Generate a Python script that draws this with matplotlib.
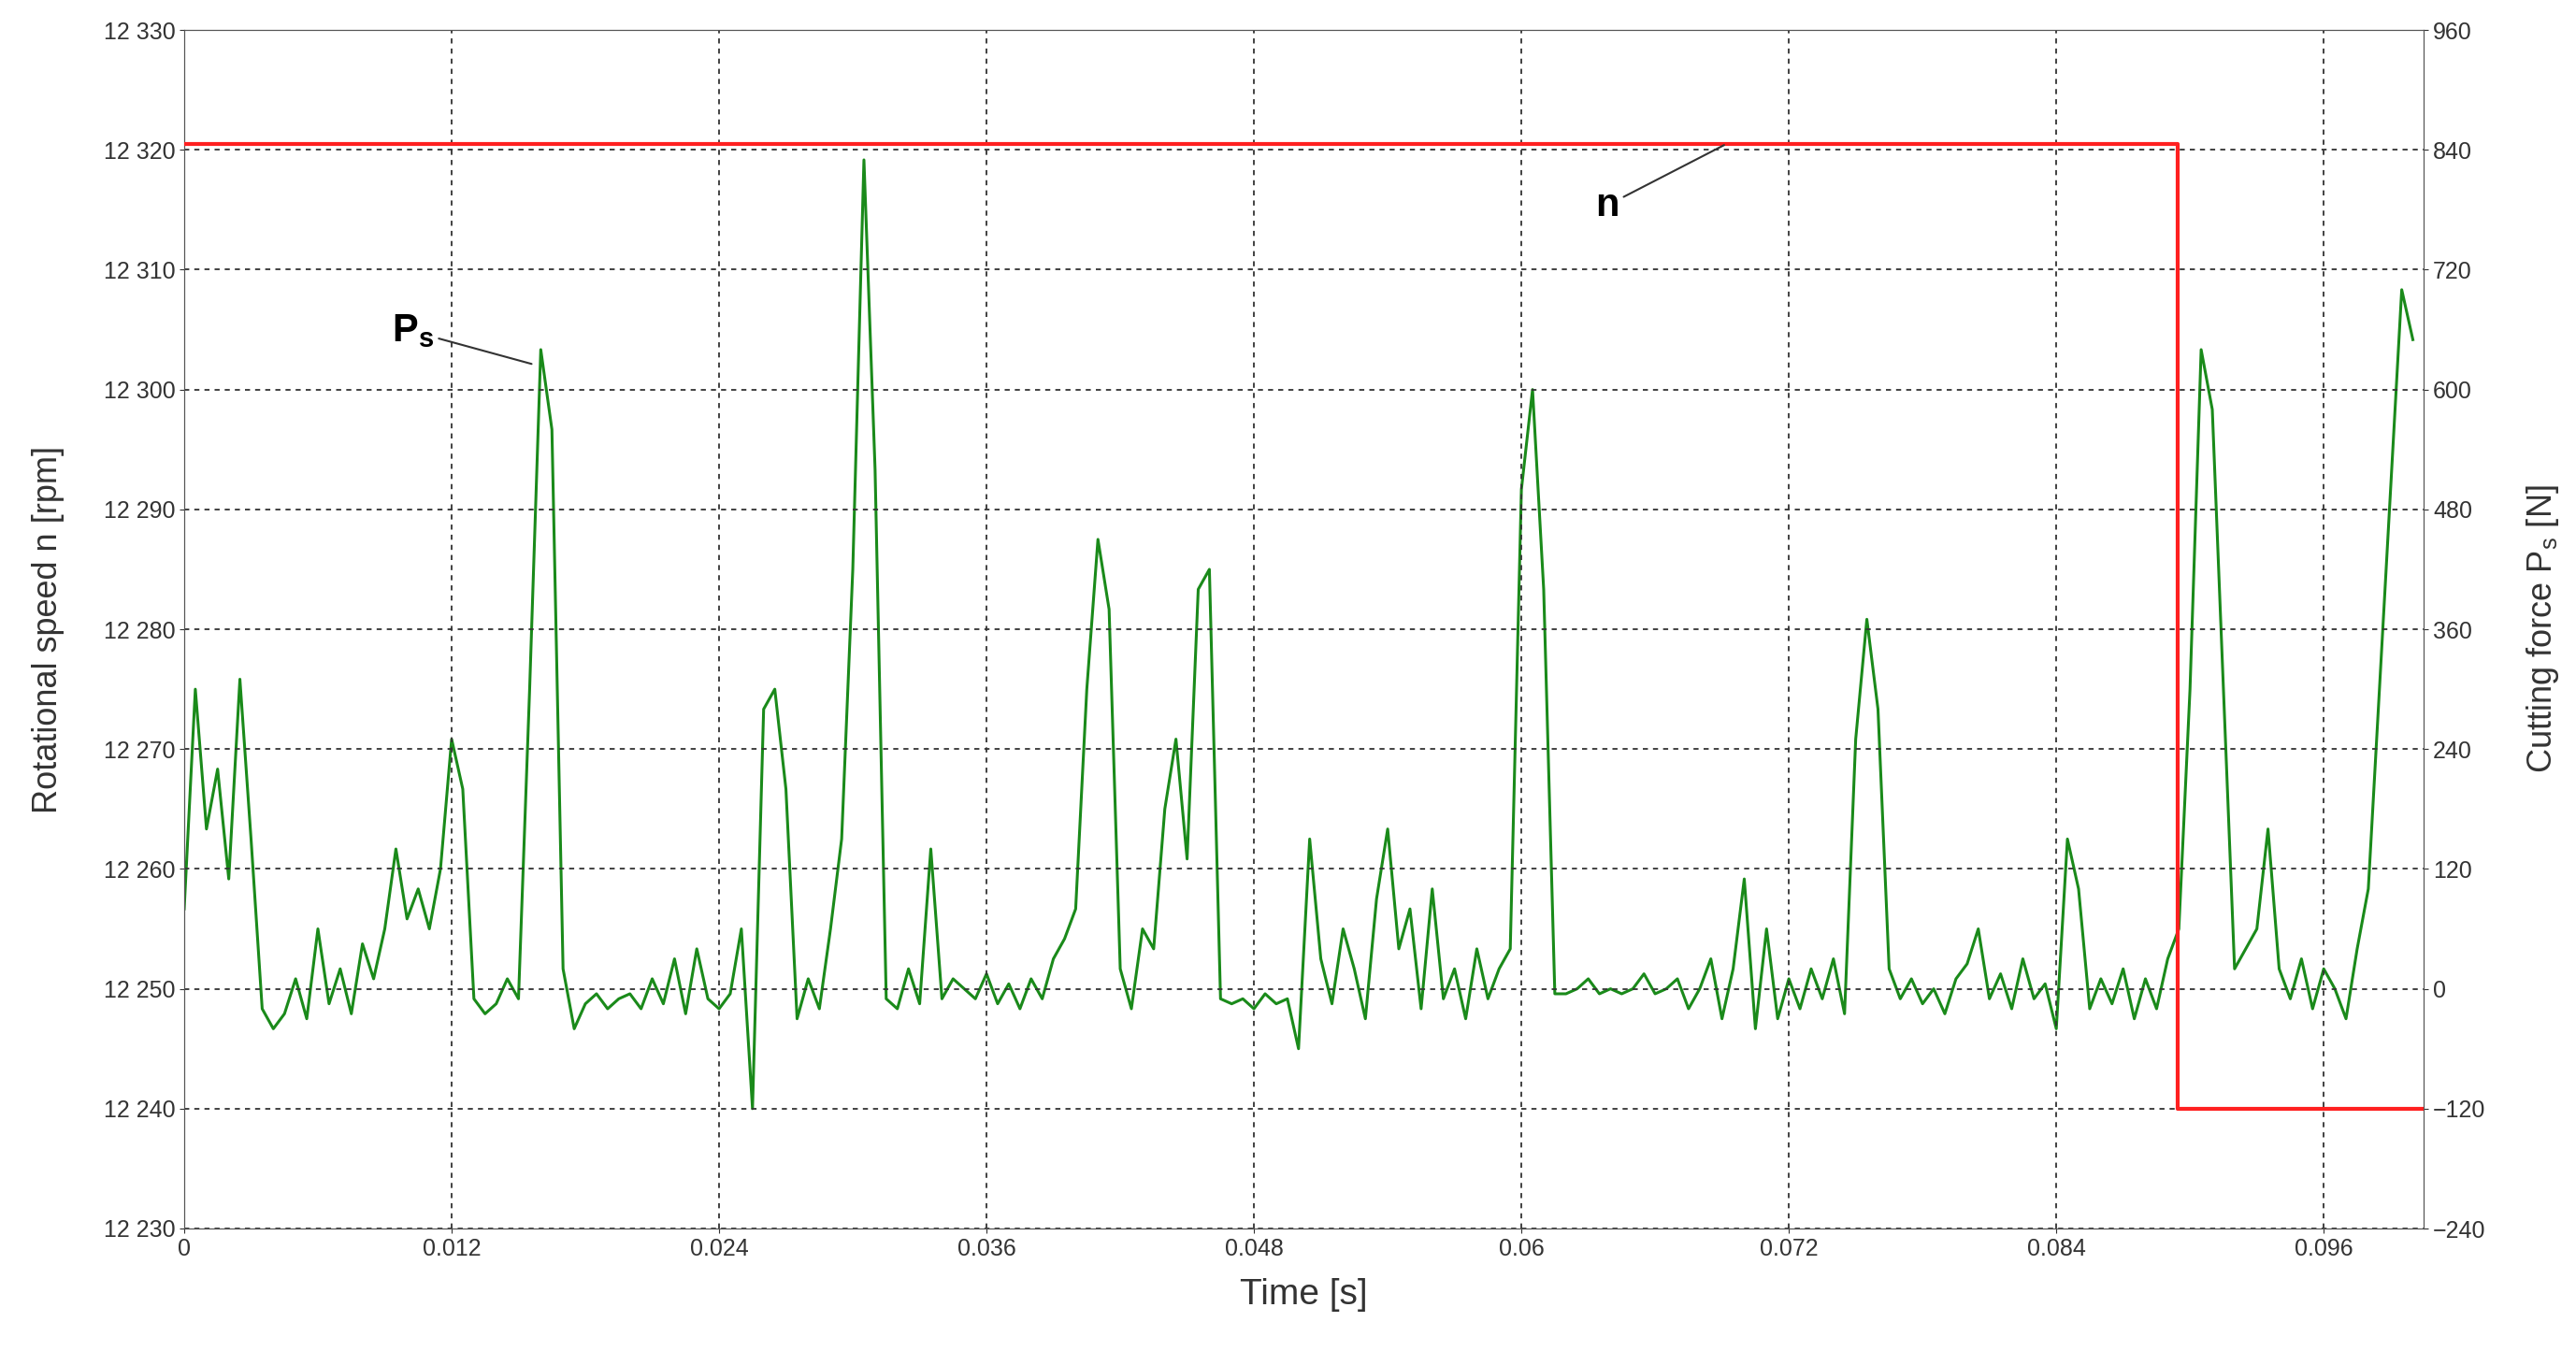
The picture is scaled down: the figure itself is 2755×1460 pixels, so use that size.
import numpy as np
import matplotlib
matplotlib.use("Agg")
import matplotlib.pyplot as plt

plt.rcParams['font.family'] = ['Liberation Sans', 'DejaVu Sans']

# time in ms, step 0.5 ms
t_ms = np.arange(0, 100.01, 0.5)
force = [
    80, 300, 160, 220, 110, 310, 150, -20, -40, -25,
    10, -30, 60, -15, 20, -25, 45, 10, 60, 140,
    70, 100, 60, 120, 250, 200, -10, -25, -15, 10,
    -10, 300, 640, 560, 20, -40, -15, -5, -20, -10,
    -5, -20, 10, -15, 30, -25, 40, -10, -20, -5,
    60, -120, 280, 300, 200, -30, 10, -20, 60, 150,
    420, 830, 520, -10, -20, 20, -15, 140, -10, 10,
    0, -10, 15, -15, 5, -20, 10, -10, 30, 50,
    80, 300, 450, 380, 20, -20, 60, 40, 180, 250,
    130, 400, 420, -10, -15, -10, -20, -5, -15, -10,
    -60, 150, 30, -15, 60, 20, -30, 90, 160, 40,
    80, -20, 100, -10, 20, -30, 40, -10, 20, 40,
    500, 600, 400, -5, -5, 0, 10, -5, 0, -5,
    0, 15, -5, 0, 10, -20, 0, 30, -30, 20,
    110, -40, 60, -30, 10, -20, 20, -10, 30, -25,
    250, 370, 280, 20, -10, 10, -15, 0, -25, 10,
    25, 60, -10, 15, -20, 30, -10, 5, -40, 150,
    100, -20, 10, -15, 20, -30, 10, -20, 30, 60,
    300, 640, 580, 300, 20, 40, 60, 160, 20, -10,
    30, -20, 20, 0, -30, 40, 100, 300, 500, 700,
    650,
]
t_force = t_ms / 1000.0

speed_t = [0.0, 0.08945, 0.08945, 0.1005]
speed_n = [12320.5, 12320.5, 12240, 12240]

left_ticks = list(range(12230, 12331, 10))
right_ticks = list(range(-240, 961, 120))
x_ticks = [0, 0.012, 0.024, 0.036, 0.048, 0.06, 0.072, 0.084, 0.096]
x_labels = ["0", "0.012", "0.024", "0.036", "0.048", "0.06", "0.072", "0.084", "0.096"]

fig = plt.figure(figsize=(27.55, 14.6), dpi=100)
ax = fig.add_axes([0.0715, 0.10, 0.8695, 0.878])
ax2 = ax.twinx()

ax.plot(speed_t, speed_n, color='#ff2020', lw=3, zorder=3)
ax2.plot(t_force, force, color='#1a8a1a', lw=2.2)

ax.set_xlim(0, 0.1005)
ax.set_ylim(12230, 12330)
ax2.set_ylim(-240, 960)
ax.set_xticks(x_ticks)
ax.set_xticklabels(x_labels)
ax.set_yticks(left_ticks)
ax.set_yticklabels([f"{v//1000} {v%1000:03d}" for v in left_ticks])
ax2.set_yticks(right_ticks)
ax.grid(True, color='#333333', ls=(0, (3, 3)), lw=1.3)
ax.set_zorder(ax2.get_zorder() + 1)
ax.patch.set_visible(False)

for a in (ax, ax2):
    a.tick_params(labelsize=18, colors='#333333')
    for s in a.spines.values():
        s.set_color('#555555')

ax.set_xlabel("Time [s]", fontsize=28, color='#333333', labelpad=14)
ax.set_ylabel("Rotational speed n [rpm]", fontsize=26, color='#333333', labelpad=30)
ax2.set_ylabel("Cutting force P$_\\mathregular{s}$ [N]", fontsize=26, color='#333333', labelpad=30)

ax2.annotate("P$_\\mathregular{s}$", xy=(0.0157, 625), xytext=(0.0093, 648),
             fontsize=30, fontweight='bold',
             arrowprops=dict(arrowstyle='-', color='#333333', lw=1.5))
ax.annotate("n", xy=(0.0692, 12320.5), xytext=(0.0633, 12314.5),
            fontsize=30, fontweight='bold',
            arrowprops=dict(arrowstyle='-', color='#333333', lw=1.5))

fig.savefig("out.png", dpi=100)
